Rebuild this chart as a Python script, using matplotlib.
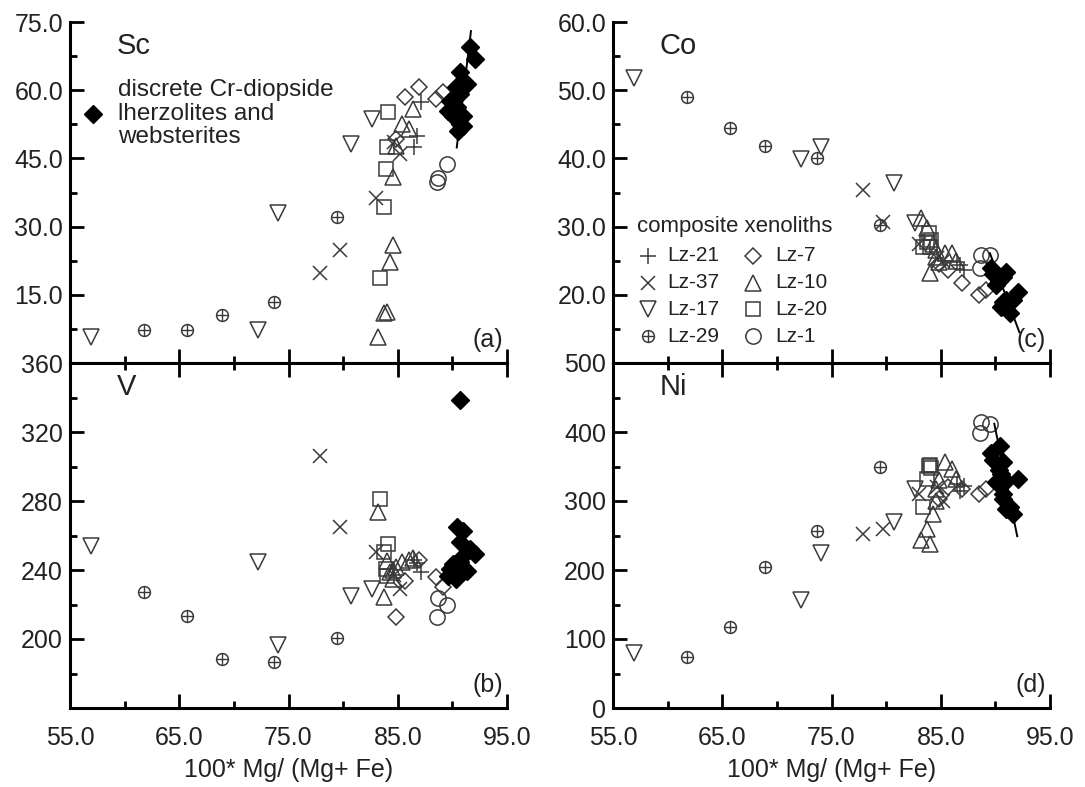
import matplotlib
matplotlib.use("Agg")
from matplotlib import pyplot as plt
from matplotlib.ticker import MultipleLocator, FixedLocator, FuncFormatter

plt.rcParams['font.family'] = ['Liberation Sans', 'DejaVu Sans']

# Mg# and element contents for each sample group
lz21_mg = [86.5, 86.8, 87.1]
lz21_sc = [47.4, 49.9, 57.4]
lz21_v = [246, 244, 239]
lz21_co = [24.8, 24.4, 23.6]
lz21_ni = [325, 314, 322]

lz37_mg = [77.9, 79.7, 83.0, 84.7, 85.2]
lz37_sc = [19.8, 24.9, 36.4, 48.5, 46.0]
lz37_v = [306.3, 264.9, 250.4, 237, 228.8]
lz37_co = [35.4, 30.7, 27.5, 25.4, 25.0]
lz37_ni = [251.5, 258.8, 310, 320, 300]

lz17_mg = [56.9, 72.2, 74.0, 80.7, 82.6]
lz17_sc = [5.7, 7.3, 33.1, 48.1, 53.6]
lz17_v = [253.9, 244.5, 196.7, 224.7, 228.8]
lz17_co = [51.8, 39.9, 41.7, 36.4, 30.6]
lz17_ni = [79, 156, 225, 270, 317]

lz29_mg = [61.8, 65.7, 68.9, 73.7, 79.4]
lz29_sc = [7.3, 7.3, 10.6, 13.5, 32.2]
lz29_v = [227, 213.6, 188.6, 186.8, 200.8]
lz29_co = [49.0, 44.5, 41.8, 40.0, 30.2]
lz29_ni = [74.6, 117, 204.7, 255.9, 349]

lz7_mg = [84.8, 85.7, 86.9, 88.5, 89.1]
lz7_sc = [49.2, 58.5, 60.7, 58.0, 59.6]
lz7_v = [212.5, 233.5, 246, 235.8, 230]
lz7_co = [24.5, 23.6, 21.7, 20.0, 20.7]
lz7_ni = [303, 320, 318, 310, 317]

lz10_mg = [83.2, 83.7, 84.0, 84.3, 84.6, 84.6, 84.8, 85.4, 86.0, 86.4]
lz10_sc = [5.7, 11.0, 11.3, 22.3, 26.0, 41.0, 47.7, 52.5, 51.4, 55.8]
lz10_v = [273.7, 224.1, 245.0, 238.7, 234.6, 240, 242, 244.5, 246, 247]
lz10_co = [31.2, 29.8, 23.2, 27.5, 26.5, 25.5, 24.8, 26.1, 26.1, 25.0]
lz10_ni = [244, 259, 237, 281, 300, 317, 330, 357, 346, 332]

lz20_mg = [83.4, 83.7, 83.9, 84.0, 84.1]
lz20_sc = [18.7, 34.4, 42.6, 47.4, 55.3]
lz20_v = [281.3, 250.4, 240.5, 236.4, 255]
lz20_co = [27.0, 27.7, 29.1, 27.0, 28.0]
lz20_ni = [291, 332, 351, 352, 348]

lz1_mg = [88.6, 88.7, 89.5]
lz1_sc = [39.9, 40.6, 43.7]
lz1_v = [212.5, 224, 220]
lz1_co = [23.9, 25.8, 25.8]
lz1_ni = [398, 415, 412]

disc_mg = [89.6, 89.8, 90.1, 90.3, 90.4, 90.5, 90.7, 90.7, 90.7, 91.0, 91.0, 91.3, 91.6, 92.1]
disc_sc = [55.4, 57.6, 54.3, 60.7, 56.3, 51.0, 64.0, 59.1, 52.5, 54.3, 52.1, 61.3, 69.5, 66.8]
disc_v = [236.4, 240.5, 243.4, 234.6, 265, 238.7, 256.2, 244.5, 338.4, 262.6, 248, 239.3, 252.1, 249.2]
disc_co = [23.9, 23.0, 21.4, 22.0, 22.6, 18.2, 22.6, 19.0, 18.5, 19.2, 23.3, 17.3, 19.2, 20.4]
disc_ni = [370, 360, 327, 345, 379, 339, 357, 303, 310, 288, 329, 292, 281, 332]

# trend lines through the discrete samples
trend_sc_x, trend_sc_y = [91.7, 90.4], [73.0, 47.4]
trend_co_x, trend_co_y = [89.5, 92.2], [26.1, 14.5]
trend_ni_x, trend_ni_y = [89.9, 92.0], [412, 249]

x_major = [55, 65, 75, 85, 95]
x_minor = [60, 70, 80, 90]

names = ['Lz-21', 'Lz-37', 'Lz-17', 'Lz-29', 'Lz-7', 'Lz-10', 'Lz-20', 'Lz-1']
mg = [lz21_mg, lz37_mg, lz17_mg, lz29_mg, lz7_mg, lz10_mg, lz20_mg, lz1_mg]
sc = [lz21_sc, lz37_sc, lz17_sc, lz29_sc, lz7_sc, lz10_sc, lz20_sc, lz1_sc]
v = [lz21_v, lz37_v, lz17_v, lz29_v, lz7_v, lz10_v, lz20_v, lz1_v]
co = [lz21_co, lz37_co, lz17_co, lz29_co, lz7_co, lz10_co, lz20_co, lz1_co]
ni = [lz21_ni, lz37_ni, lz17_ni, lz29_ni, lz7_ni, lz10_ni, lz20_ni, lz1_ni]

EDGE = '#3a3a3a'
TXT = '#222222'
markers = {'Lz-21': ('+', 12), 'Lz-37': ('x', 10), 'Lz-17': ('v', 11),
           'Lz-29': ('o', 8.5), 'Lz-7': ('D', 8), 'Lz-10': ('^', 11),
           'Lz-20': ('s', 10), 'Lz-1': ('o', 11)}


def draw(ax, name, x, y, **kw):
    m, s = markers[name]
    ax.plot(x, y, ls='none', marker=m, ms=s, mfc='none', mec=EDGE, mew=1.1, **kw)
    if name == 'Lz-29':
        ax.plot(x, y, ls='none', marker='+', ms=s, mec=EDGE, mew=1.0, **kw)


def setup(ax, ylim, major, minor, fmt, boxed, xlabels, hide_low=True):
    ax.set_xlim(55, 95)
    ax.set_ylim(*ylim)
    ax.xaxis.set_major_locator(FixedLocator(x_major))
    ax.xaxis.set_minor_locator(FixedLocator(x_minor))
    ax.yaxis.set_major_locator(MultipleLocator(major))
    ax.yaxis.set_minor_locator(MultipleLocator(minor))
    lo = ylim[0]
    ax.yaxis.set_major_formatter(FuncFormatter(
        lambda val, p: '' if (hide_low and abs(val - lo) < 1e-6) else fmt % val))
    ax.xaxis.set_major_formatter(FuncFormatter(lambda val, p: '%.1f' % val))
    ax.spines['right'].set_visible(False)
    ax.spines['top'].set_visible(boxed)
    for s in ax.spines.values():
        s.set_linewidth(2.2)
    ax.tick_params(which='both', direction='in', width=2, top=boxed, right=False,
                   labelsize=18, labelcolor=TXT)
    ax.tick_params(which='major', length=10)
    ax.tick_params(which='minor', length=5)
    ax.tick_params(axis='x', pad=13, labelbottom=xlabels)
    ax.tick_params(axis='y', pad=5)


fig = plt.figure(figsize=(10.85, 7.87), dpi=100)
W, H = 1085, 787
ax_a = fig.add_axes([70 / W, 1 - 363 / H, 437 / W, 341 / H])
ax_b = fig.add_axes([70 / W, 1 - 708 / H, 437 / W, 345 / H])
ax_c = fig.add_axes([613 / W, 1 - 363 / H, 437 / W, 341 / H])
ax_d = fig.add_axes([613 / W, 1 - 708 / H, 437 / W, 345 / H])

panels = [(ax_a, sc, 'Sc', '(a)'), (ax_b, v, 'V', '(b)'),
          (ax_c, co, 'Co', '(c)'), (ax_d, ni, 'Ni', '(d)')]

for ax, vals, elem, tag in panels:
    for name, xs, ys in zip(names, mg, vals):
        draw(ax, name, xs, ys)
    ax.text(0.107, 0.93, elem, transform=ax.transAxes, fontsize=21, va='center', color=TXT)
    ax.text(0.99, 0.067, tag, transform=ax.transAxes, fontsize=18, va='center',
            ha='right', color=TXT)

ax_a.plot(trend_sc_x, trend_sc_y, color='black', lw=1.4)
ax_c.plot(trend_co_x, trend_co_y, color='black', lw=1.4)
ax_d.plot(trend_ni_x, trend_ni_y, color='black', lw=1.4)

for ax, disc in [(ax_a, disc_sc), (ax_b, disc_v), (ax_c, disc_co), (ax_d, disc_ni)]:
    ax.plot(disc_mg, disc, ls='none', marker='D', ms=9, color='black', mec='black')

setup(ax_a, (0, 75), 15, 7.5, '%.1f', False, False)
setup(ax_b, (160, 360), 40, 20, '%d', True, True)
setup(ax_c, (10, 60), 10, 5, '%.1f', False, False)
setup(ax_d, (0, 500), 100, 50, '%d', True, True, hide_low=False)

for ax in (ax_b, ax_d):
    ax.set_xlabel('100* Mg/ (Mg+ Fe)', fontsize=18, labelpad=6, color=TXT)

# legend for the discrete samples
ax_a.plot([0.053], [0.731], ls='none', marker='D', ms=9, color='black',
          transform=ax_a.transAxes, clip_on=False)
ax_a.text(0.11, 0.731, 'discrete Cr-diopside\nlherzolites and\nwebsterites',
          transform=ax_a.transAxes, fontsize=17.5, va='center', linespacing=1.1,
          color=TXT)

# legend for the composite xenoliths
ax_c.text(0.055, 0.399, 'composite xenoliths', transform=ax_c.transAxes,
          fontsize=16, va='center', color=TXT)
rows = [0.314, 0.235, 0.158, 0.079]
for i, name in enumerate(names):
    col = i // 4
    mx = [0.080, 0.320][col]
    tx = [0.124, 0.371][col]
    y = rows[i % 4]
    draw(ax_c, name, [mx], [y], transform=ax_c.transAxes, clip_on=False)
    ax_c.text(tx, y, name, transform=ax_c.transAxes, fontsize=15, va='center', color=TXT)

fig.savefig('out.png', dpi=100)
